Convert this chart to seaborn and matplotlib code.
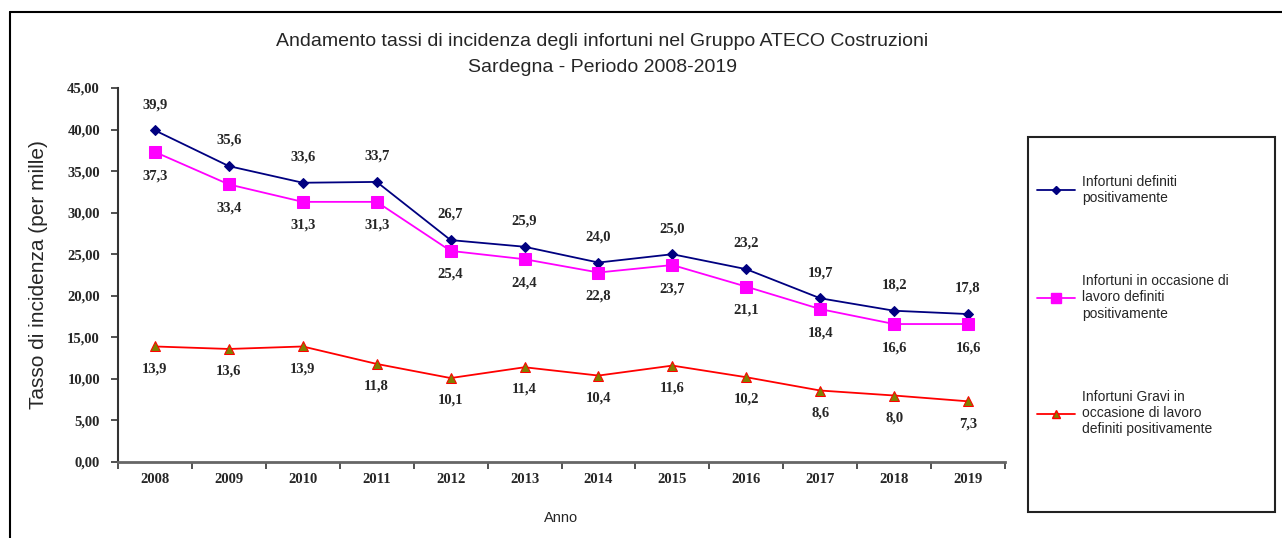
import matplotlib as mpl
mpl.use('Agg')
import matplotlib.pyplot as plt
import numpy as np
import pandas as pd
import seaborn as sns
from matplotlib.lines import Line2D
from matplotlib.patches import Rectangle

years = [2008, 2009, 2010, 2011, 2012, 2013, 2014, 2015, 2016, 2017, 2018, 2019]
definiti = [39.9, 35.6, 33.6, 33.7, 26.7, 25.9, 24.0, 25.0, 23.2, 19.7, 18.2, 17.8]
in_occasione = [37.3, 33.4, 31.3, 31.3, 25.4, 24.4, 22.8, 23.7, 21.1, 18.4, 16.6, 16.6]
gravi = [13.9, 13.6, 13.9, 11.8, 10.1, 11.4, 10.4, 11.6, 10.2, 8.6, 8.0, 7.3]

labels = ['Infortuni definiti\npositivamente',
          'Infortuni in occasione di\nlavoro definiti\npositivamente',
          'Infortuni Gravi in\noccasione di lavoro\ndefiniti positivamente']

sns.set_style('white')
plt.rcParams['font.family'] = ['Liberation Sans', 'DejaVu Sans']

fig = plt.figure(figsize=(12.82, 5.38), dpi=100)
ax = fig.add_axes([118 / 1282, 1 - 462 / 538, (1005 - 118) / 1282, (462 - 88) / 538])

df1 = pd.DataFrame({'Anno': years, 'v': definiti})
df2 = pd.DataFrame({'Anno': years, 'v': in_occasione})
df3 = pd.DataFrame({'Anno': years, 'v': gravi})

sns.lineplot(data=df1, x='Anno', y='v', ax=ax, color='#000080', lw=1.3,
             marker='D', markersize=5, markeredgecolor='#000080', markerfacecolor='#000080')
sns.lineplot(data=df2, x='Anno', y='v', ax=ax, color='#FF00FF', lw=1.3,
             marker='s', markersize=8, markeredgecolor='#FF00FF', markerfacecolor='#FF00FF')
sns.lineplot(data=df3, x='Anno', y='v', ax=ax, color='#FF0000', lw=1.3,
             marker='^', markersize=7, markeredgecolor='#FF0000', markerfacecolor='#808000')

serif = dict(family='Liberation Serif', fontsize=10.5, fontweight='bold')
lab_font = dict(ha='center', va='center', **serif)
for x, v in zip(years, definiti):
    ax.annotate(f'{v:.1f}'.replace('.', ','), (x, v), xytext=(0, 18.5),
                textcoords='offset points', **lab_font)
for x, v in zip(years, in_occasione):
    ax.annotate(f'{v:.1f}'.replace('.', ','), (x, v), xytext=(0, -17),
                textcoords='offset points', **lab_font)
for x, v in zip(years, gravi):
    ax.annotate(f'{v:.1f}'.replace('.', ','), (x, v), xytext=(0, -16),
                textcoords='offset points', **lab_font)

ax.set_xlim(2007.5, 2019.5)
ax.set_ylim(0, 45)
ax.set_yticks(np.arange(0, 46, 5))
ax.set_yticklabels([f'{t:.2f}'.replace('.', ',') for t in np.arange(0, 46, 5)], **serif)
ax.set_xticks(np.arange(2007.5, 2020, 1))
ax.set_xticklabels([])
for x in years:
    ax.text(x, -0.048, str(x), transform=ax.get_xaxis_transform(), ha='center', va='center', **serif)
ax.tick_params(axis='both', direction='out', length=5, width=1.2, color='#333333',
               left=True, bottom=True, pad=8)

for s in ['top', 'right']:
    ax.spines[s].set_visible(False)
ax.spines['left'].set_color('#333333')
ax.spines['left'].set_linewidth(1.5)
ax.spines['bottom'].set_color('#666666')
ax.spines['bottom'].set_linewidth(2)

ax.set_xlabel('Anno', fontsize=10.5, labelpad=22)
ax.set_ylabel('Tasso di incidenza (per mille)', fontsize=15, labelpad=14)

fig.text(602 / 1282, 1 - 42 / 538, 'Andamento tassi di incidenza degli infortuni nel Gruppo ATECO Costruzioni',
         ha='center', va='center', fontsize=14)
fig.text(602 / 1282, 1 - 67 / 538, 'Sardegna - Periodo 2008-2019', ha='center', va='center', fontsize=14)

# legend box
fig.patches.append(Rectangle((1028 / 1282, 1 - 512 / 538), (1275 - 1028) / 1282, (512 - 137) / 538,
                             transform=fig.transFigure, fill=False, edgecolor='#222222', lw=1.5))
handles = [Line2D([], [], color='#000080', marker='D', markersize=4, lw=1.3),
           Line2D([], [], color='#FF00FF', marker='s', markersize=7, lw=1.3),
           Line2D([], [], color='#FF0000', marker='^', markersize=6, markerfacecolor='#808000', lw=1.3)]
fig.legend(handles, labels, loc='upper left', bbox_to_anchor=(1024 / 1282, 1 - 162 / 538),
           frameon=False, fontsize=10, labelspacing=5.0, handlelength=2.8, handletextpad=0.5)

# outer frame
fig.add_artist(Line2D([10 / 1282, 1], [1 - 12 / 538, 1 - 12 / 538], transform=fig.transFigure, color='black', lw=1.5))
fig.add_artist(Line2D([10 / 1282, 10 / 1282], [0, 1 - 12 / 538], transform=fig.transFigure, color='black', lw=1.5))

fig.savefig('out.png', dpi=100)
